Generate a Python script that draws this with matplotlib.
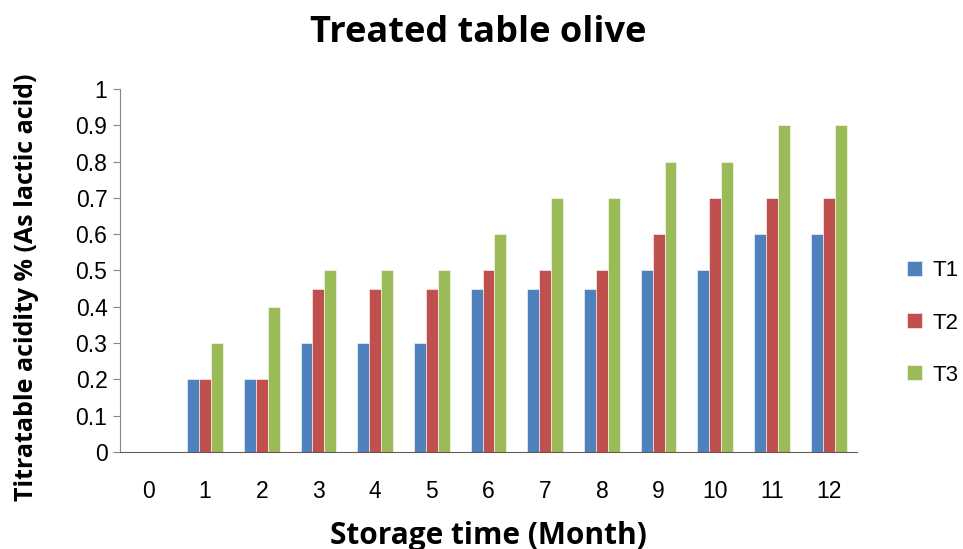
import numpy as np
import matplotlib.pyplot as plt

# data
months = [0, 1, 2, 3, 4, 5, 6, 7, 8, 9, 10, 11, 12]
t1 = [0, 0.2, 0.2, 0.3, 0.3, 0.3, 0.45, 0.45, 0.45, 0.5, 0.5, 0.6, 0.6]
t2 = [0, 0.2, 0.2, 0.45, 0.45, 0.45, 0.5, 0.5, 0.5, 0.6, 0.7, 0.7, 0.7]
t3 = [0, 0.3, 0.4, 0.5, 0.5, 0.5, 0.6, 0.7, 0.7, 0.8, 0.8, 0.9, 0.9]
series = ['T1', 'T2', 'T3']
colors = ['#4F81BD', '#C0504D', '#9BBB59']

fig = plt.figure(figsize=(9.63, 5.49), dpi=100)
ax = fig.add_axes([0.1246, 0.1767, 0.7654, 0.6613])

x = np.arange(len(months))
w = 0.21
for i, (vals, lab, c) in enumerate(zip([t1, t2, t3], series, colors)):
    ax.bar(x + (i - 1) * w, vals, w, color=c, label=lab, edgecolor='white', linewidth=0.4)

ax.set_xlim(-0.5, len(months) - 0.5)
ax.set_ylim(0, 1)
ax.set_yticks(np.arange(0, 1.01, 0.1))
ax.set_yticklabels(['0', '0.1', '0.2', '0.3', '0.4', '0.5', '0.6', '0.7', '0.8', '0.9', '1'])
ax.set_xticks(x)
ax.set_xticklabels([str(m) for m in months])
for lbl in ax.get_xticklabels() + ax.get_yticklabels():
    lbl.set_fontfamily('Liberation Sans')
    lbl.set_fontsize(16.5)
ax.tick_params(axis='x', length=0, pad=20)
ax.tick_params(axis='y', length=5, color='#868686', pad=4)

for s in ['top', 'right']:
    ax.spines[s].set_visible(False)
ax.spines['left'].set_color('#868686')
ax.spines['bottom'].set_color('#6b5a50')

fig.text(0.497, 0.94, 'Treated table olive', fontsize=26, fontweight='bold', family='Open Sans',
         ha='center', va='center')
ax.set_xlabel('Storage time (Month)', fontsize=21.5, fontweight='bold', family='Open Sans', labelpad=13)
ax.set_ylabel('Titratable acidity % (As lactic acid)', fontsize=18, fontweight='bold', family='Open Sans')
ax.yaxis.set_label_coords(-0.11, 0.455)

ax.legend(loc='center left', bbox_to_anchor=(1.047, 0.355), frameon=False,
          prop={'family': 'Liberation Sans', 'size': 16}, handlelength=0.65, handleheight=0.65,
          labelspacing=1.4, handletextpad=0.5, borderpad=0.2)

fig.savefig('out.png', dpi=100)
